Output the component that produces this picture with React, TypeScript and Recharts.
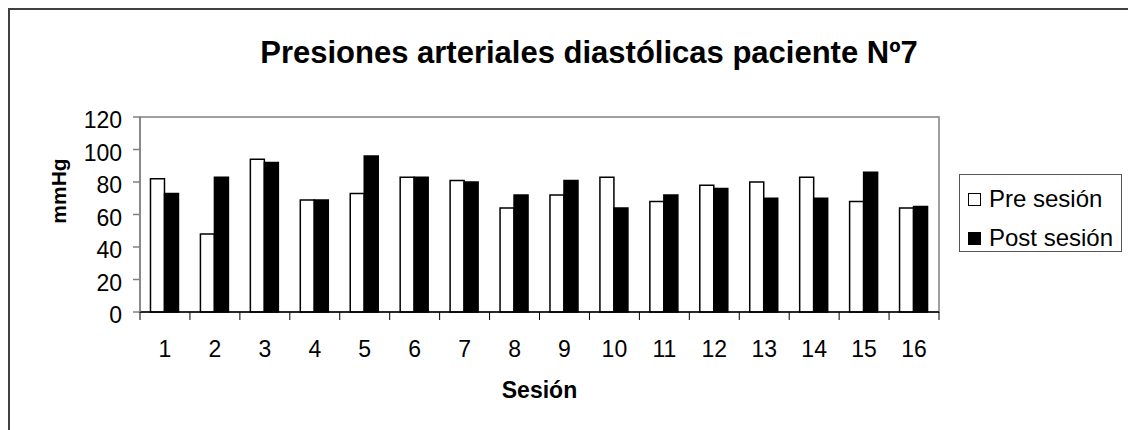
import React from 'react';
import {
  BarChart,
  Bar,
  XAxis,
  YAxis,
  Legend,
  ReferenceArea,
} from 'recharts';

// Sesiones y presiones diastólicas (mmHg)
const sesiones = ['1', '2', '3', '4', '5', '6', '7', '8', '9', '10', '11', '12', '13', '14', '15', '16'];
const preSesion = [82, 48, 94, 69, 73, 83, 81, 64, 72, 83, 68, 78, 80, 83, 68, 64];
const postSesion = [73, 83, 92, 69, 96, 83, 80, 72, 81, 64, 72, 76, 70, 70, 86, 65];
const yTicks = [0, 20, 40, 60, 80, 100, 120];

const WIDTH = 1128;
const HEIGHT = 430;
const PLOT_LEFT = 140;
const PLOT_RIGHT = 939;
const PLOT_TOP = 117;
const PLOT_BOTTOM = 312;
const PLOT_W = PLOT_RIGHT - PLOT_LEFT;
const FONT = '"Liberation Sans", Arial, sans-serif';

const data = sesiones.map((s, i) => ({
  sesion: s,
  pre: preSesion[i],
  post: postSesion[i],
}));

// eje X estilo Excel: marcas entre categorías
const SesionTick = (props: any) => {
  const { x, y, payload, index } = props;
  const half = PLOT_W / sesiones.length / 2;
  return (
    <g>
      <line x1={x - half} y1={y} x2={x - half} y2={y + 8} stroke="#000" strokeWidth={1} />
      {index === sesiones.length - 1 && (
        <line x1={x + half} y1={y} x2={x + half} y2={y + 8} stroke="#000" strokeWidth={1} />
      )}
      <text x={x} y={y + 45} textAnchor="middle" fontSize={23} fontFamily={FONT} fill="#000">
        {payload.value}
      </text>
    </g>
  );
};

const MmhgTick = (props: any) => {
  const { x, y, payload } = props;
  return (
    <text x={x} y={y + 11} textAnchor="end" fontSize={23} fontFamily={FONT} fill="#000">
      {payload.value}
    </text>
  );
};

const LegendBox = () => (
  <div
    style={{
      border: '1px solid #555',
      width: 163,
      height: 78,
      boxSizing: 'border-box',
      fontFamily: FONT,
      fontSize: 24,
      color: '#000',
      padding: '9px 0 0 8px',
    }}
  >
    {[
      { name: 'Pre sesión', fill: '#fff' },
      { name: 'Post sesión', fill: '#000' },
    ].map((item) => (
      <div key={item.name} style={{ display: 'flex', alignItems: 'center', height: 30, marginBottom: 9 }}>
        <span
          style={{
            display: 'inline-block',
            width: 11,
            height: 11,
            background: item.fill,
            border: '1.5px solid #000',
            marginRight: 8,
          }}
        />
        <span style={{ whiteSpace: 'nowrap' }}>{item.name}</span>
      </div>
    ))}
  </div>
);

export default function App() {
  return (
    <div style={{ position: 'fixed', left: 0, top: 0, width: WIDTH, height: HEIGHT, background: '#fff' }}>
      {/* marco del área del gráfico */}
      <div
        style={{
          position: 'absolute',
          left: 8,
          top: 8,
          right: 0,
          bottom: 0,
          borderLeft: '2px solid #404040',
          borderTop: '2px solid #404040',
        }}
      />
      <div
        style={{
          position: 'absolute',
          left: 0,
          width: 1178,
          top: 37,
          textAlign: 'center',
          fontFamily: FONT,
          fontWeight: 'bold',
          fontSize: 31,
          lineHeight: 1,
          color: '#000',
        }}
      >
        Presiones arteriales diastólicas paciente Nº7
      </div>
      <div style={{ position: 'absolute', left: 0, top: 0 }}>
        <BarChart
          width={WIDTH}
          height={HEIGHT}
          data={data}
          margin={{ top: PLOT_TOP, right: WIDTH - PLOT_RIGHT, bottom: HEIGHT - PLOT_BOTTOM - 100, left: 40 }}
          barCategoryGap="21%"
          barGap={0}
        >
          <ReferenceArea y1={0} y2={120} fill="none" stroke="#808080" strokeWidth={1.5} />
          <XAxis
            dataKey="sesion"
            height={100}
            tickLine={false}
            tickSize={0}
            tickMargin={0}
            axisLine={{ stroke: '#000', strokeWidth: 1.5 }}
            tick={<SesionTick />}
            interval={0}
            label={{
              content: () => (
                <text
                  x={(PLOT_LEFT + PLOT_RIGHT) / 2}
                  y={398}
                  textAnchor="middle"
                  fontSize={23}
                  fontWeight="bold"
                  fontFamily={FONT}
                  fill="#000"
                >
                  Sesión
                </text>
              ),
            }}
          />
          <YAxis
            width={100}
            domain={[0, 120]}
            ticks={yTicks}
            interval={0}
            tickSize={7}
            tickMargin={11}
            tickLine={{ stroke: '#808080', strokeWidth: 1.5 }}
            axisLine={{ stroke: '#808080', strokeWidth: 1.5 }}
            tick={<MmhgTick />}
            label={{
              content: () => (
                <text
                  x={0}
                  y={0}
                  transform="translate(66, 191) rotate(-90)"
                  textAnchor="middle"
                  fontSize={21}
                  fontWeight="bold"
                  fontFamily={FONT}
                  fill="#000"
                >
                  mmHg
                </text>
              ),
            }}
          />
          <Legend
            layout="vertical"
            align="center"
            verticalAlign="middle"
            content={<LegendBox />}
            wrapperStyle={{ left: 959, top: 174, width: 163, height: 78 }}
          />
          <Bar dataKey="pre" name="Pre sesión" fill="#fff" stroke="#000" strokeWidth={1.5} isAnimationActive={false} />
          <Bar dataKey="post" name="Post sesión" fill="#000" stroke="#000" strokeWidth={1.5} isAnimationActive={false} />
        </BarChart>
      </div>
    </div>
  );
}
